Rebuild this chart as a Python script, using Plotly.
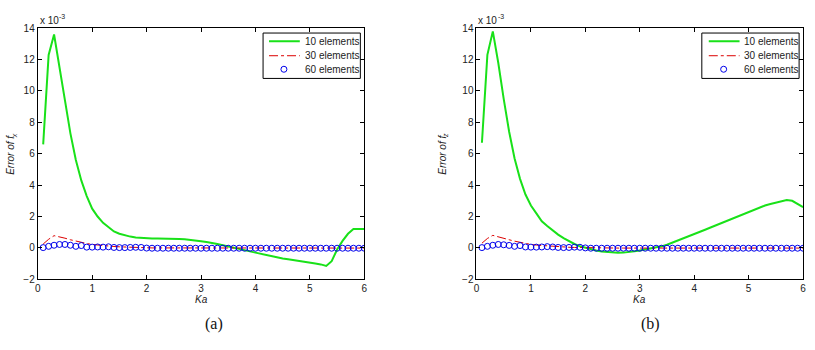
import plotly.graph_objects as go

W, H = 815, 350

ka = [0.1, 0.2, 0.3, 0.4, 0.5, 0.6, 0.7, 0.8, 0.9, 1.0,
      1.1, 1.2, 1.3, 1.4, 1.5, 1.6, 1.7, 1.8, 1.9, 2.0,
      2.1, 2.2, 2.3, 2.4, 2.5, 2.6, 2.7, 2.8, 2.9, 3.0,
      3.1, 3.2, 3.3, 3.4, 3.5, 3.6, 3.7, 3.8, 3.9, 4.0,
      4.1, 4.2, 4.3, 4.4, 4.5, 4.6, 4.7, 4.8, 4.9, 5.0,
      5.1, 5.2, 5.3, 5.4, 5.5, 5.6, 5.7, 5.8, 5.9, 6.0]

# (a) Error of f_x  (units of 1e-3)
a_10 = [6.6, 12.3, 13.6, 11.6, 9.4, 7.3, 5.6, 4.3, 3.3, 2.5,
        2.0, 1.6, 1.3, 1.05, 0.9, 0.8, 0.72, 0.67, 0.64, 0.62,
        0.6, 0.6, 0.6, 0.6, 0.58, 0.57, 0.55, 0.52, 0.48, 0.43,
        0.37, 0.32, 0.25, 0.17, 0.1, 0.02, -0.06, -0.14, -0.22, -0.3,
        -0.38, -0.45, -0.52, -0.6, -0.67, -0.72, -0.78, -0.85, -0.92, -0.97,
        -1.0, -1.05, -1.15, -0.85, -0.1, 0.45, 0.9, 1.2, 1.2, 1.2]
a_30 = [0.25, 0.55, 0.78, 0.72, 0.62, 0.52, 0.43, 0.35, 0.28, 0.22,
        0.18, 0.15, 0.12, 0.09, 0.07, 0.05, 0.04, 0.03, 0.02, 0.01,
        0.0, 0.0, -0.01, -0.01, -0.01, -0.01, -0.01, -0.01, -0.01, -0.01,
        -0.01, -0.01, -0.01, -0.01, -0.01, -0.01, -0.01, -0.01, -0.01, -0.01,
        -0.01, -0.01, -0.01, -0.01, -0.01, -0.01, -0.01, -0.01, -0.01, -0.01,
        -0.01, -0.01, -0.01, -0.01, -0.01, -0.01, -0.01, -0.01, -0.01, -0.01]
a_60 = [0.02, 0.1, 0.17, 0.22, 0.22, 0.17, 0.1, 0.15, 0.05, 0.05,
        0.06, 0.05, 0.07, 0.03, 0.02, 0.02, 0.03, 0.04, 0.03, -0.01,
        -0.02, -0.02, -0.02, -0.02, -0.02, -0.02, -0.02, -0.02, -0.02, -0.02,
        -0.02, -0.02, -0.02, -0.02, -0.02, -0.02, -0.02, -0.02, -0.02, -0.02,
        -0.02, -0.02, -0.02, -0.02, -0.02, -0.02, -0.02, -0.02, -0.02, -0.02,
        -0.02, -0.02, -0.02, -0.02, -0.02, -0.02, -0.02, -0.02, -0.02, -0.02]

# (b) Error of f_z  (units of 1e-3)
b_10 = [6.7, 12.3, 13.8, 11.8, 9.5, 7.4, 5.7, 4.4, 3.4, 2.7,
        2.2, 1.7, 1.4, 1.1, 0.85, 0.62, 0.42, 0.25, 0.1, 0.0,
        -0.1, -0.17, -0.23, -0.27, -0.3, -0.31, -0.3, -0.27, -0.22, -0.16,
        -0.1, -0.04, 0.02, 0.1, 0.2, 0.33, 0.47, 0.6, 0.74, 0.88,
        1.02, 1.16, 1.3, 1.44, 1.58, 1.72, 1.86, 2.0, 2.15, 2.3,
        2.45, 2.58, 2.7, 2.8, 2.88, 2.95, 3.05, 3.0, 2.8, 2.6]
b_30 = [0.3, 0.6, 0.8, 0.72, 0.62, 0.52, 0.43, 0.35, 0.28, 0.22,
        0.18, 0.15, 0.12, 0.09, 0.07, 0.05, 0.04, 0.03, 0.02, 0.01,
        0.0, 0.0, -0.01, -0.01, -0.01, -0.01, -0.01, -0.01, -0.01, -0.01,
        -0.01, -0.01, -0.01, -0.01, -0.01, -0.01, -0.01, -0.01, -0.01, -0.01,
        -0.01, -0.01, -0.01, -0.01, -0.01, -0.01, -0.01, -0.01, -0.01, -0.01,
        -0.01, -0.01, -0.01, -0.01, -0.01, -0.01, -0.01, -0.01, -0.01, -0.01]
b_60 = [0.02, 0.1, 0.17, 0.22, 0.2, 0.16, 0.1, 0.15, 0.06, 0.05,
        0.05, 0.06, 0.08, 0.06, 0.03, 0.02, 0.03, 0.05, 0.04, 0.0,
        -0.02, -0.02, -0.02, -0.02, -0.02, -0.02, -0.02, -0.02, -0.02, -0.02,
        -0.02, -0.02, -0.02, -0.02, -0.02, -0.02, -0.02, -0.02, -0.02, -0.02,
        -0.02, -0.02, -0.02, -0.02, -0.02, -0.02, -0.02, -0.02, -0.02, -0.02,
        -0.02, -0.02, -0.02, -0.02, -0.02, -0.02, -0.02, -0.02, -0.02, -0.02]

series_names = ["10 elements", "30 elements", "60 elements"]
x_ticks = [0, 1, 2, 3, 4, 5, 6]
y_ticks = [-2, 0, 2, 4, 6, 8, 10, 12, 14]
panel_labels = ["(a)", "(b)"]
y_subs = ["x", "z"]

GREEN = "rgb(25,225,25)"
RED = "rgb(220,0,0)"
BLUE = "rgb(0,0,235)"
FONT = "Liberation Sans, Arial, sans-serif"
TXT = "#222"


def px(x):
    return x / W


def py(y):
    return 1 - y / H


def note(x, y, text, size=10, xanchor="center", yanchor="middle", angle=0, family=FONT, color=TXT):
    fig.add_annotation(x=px(x), y=py(y), xref="paper", yref="paper", text=text,
                       showarrow=False, xanchor=xanchor, yanchor=yanchor, textangle=angle,
                       font=dict(family=family, size=size, color=color))


fig = go.Figure()

panels = [
    dict(xa="x", ya="y", d=(35, 364), data=(a_10, a_30, a_60), ylab_x=8,
         leg=(262, 360), line=(268, 299), circ=283, text=302, lab_x=213),
    dict(xa="x2", ya="y2", d=(477, 806), data=(b_10, b_30, b_60), ylab_x=443,
         leg=(704, 802), line=(711, 742), circ=726, text=744, lab_x=652),
]

ytop, ybot = 23, 283

for i, p in enumerate(panels):
    s10, s30, s60 = p["data"]
    fig.add_trace(go.Scatter(x=ka, y=s10, mode="lines", name=series_names[0],
                             line=dict(color=GREEN, width=2),
                             xaxis=p["xa"], yaxis=p["ya"], showlegend=False))
    fig.add_trace(go.Scatter(x=ka, y=s30, mode="lines", name=series_names[1],
                             line=dict(color=RED, width=1, dash="dashdot"),
                             xaxis=p["xa"], yaxis=p["ya"], showlegend=False))
    fig.add_trace(go.Scatter(x=ka, y=s60, mode="markers", name=series_names[2],
                             marker=dict(symbol="circle-open", size=6,
                                         color=BLUE, line=dict(width=1, color=BLUE)),
                             xaxis=p["xa"], yaxis=p["ya"], showlegend=False))

    # custom MATLAB-like legend box
    lx0, lx1 = p["leg"]
    ly0, ly1 = 28, 75
    fig.add_shape(type="rect", xref="paper", yref="paper",
                  x0=px(lx0), x1=px(lx1), y0=py(ly1), y1=py(ly0),
                  line=dict(color="black", width=1), fillcolor="white", layer="above")
    rows = [36.5, 51.5, 65.5]
    fig.add_shape(type="line", xref="paper", yref="paper",
                  x0=px(p["line"][0]), x1=px(p["line"][1]), y0=py(rows[0]), y1=py(rows[0]),
                  line=dict(color=GREEN, width=2), layer="above")
    fig.add_shape(type="line", xref="paper", yref="paper",
                  x0=px(p["line"][0]), x1=px(p["line"][1]), y0=py(rows[1]), y1=py(rows[1]),
                  line=dict(color=RED, width=1, dash="dashdot"), layer="above")
    fig.add_shape(type="circle", xref="paper", yref="paper",
                  xsizemode="pixel", ysizemode="pixel",
                  xanchor=px(p["circ"]), yanchor=py(rows[2]),
                  x0=-3, x1=3, y0=-3, y1=3,
                  line=dict(color=BLUE, width=1), layer="above")
    for r, name in zip(rows, series_names):
        note(p["text"], r, name, xanchor="left")

    # exponent label: "x 10" with raised "-3"
    x0 = p["d"][0]
    note(x0, 15, "x 10", xanchor="left")
    note(x0 + 19.5, 11, "-3", size=7, xanchor="left")

    # y title "Error of f" with subscript, rotated
    note(p["ylab_x"], 177, "<i>Error of f</i>", yanchor="bottom", angle=-90)
    note(p["ylab_x"] + 3, 138.5, "<i>" + y_subs[i] + "</i>", size=7, yanchor="bottom", angle=-90)

    # x title
    note((p["d"][0] + p["d"][1]) / 2, 304, "<i>Ka</i>")
    # panel label
    note(p["lab_x"], 329, panel_labels[i], size=16, family="Liberation Serif, serif", color="#111")

axis_common = dict(showline=True, linecolor="black", linewidth=1, mirror="allticks",
                   ticks="inside", ticklen=4, tickcolor="black", showgrid=False,
                   zeroline=False, tickfont=dict(family=FONT, size=10, color=TXT))

for i, p in enumerate(panels):
    sx = "" if i == 0 else "2"
    fig.update_layout(**{
        "xaxis" + sx: dict(domain=[px(p["d"][0]), px(p["d"][1])], range=[0, 6],
                           tickvals=x_ticks, anchor="y" + sx, **axis_common),
        "yaxis" + sx: dict(domain=[py(ybot), py(ytop)], range=[-2, 14],
                           tickvals=y_ticks, anchor="x" + sx, **axis_common),
    })

fig.update_layout(width=W, height=H, margin=dict(l=0, r=0, t=0, b=0),
                  paper_bgcolor="white", plot_bgcolor="white", showlegend=False)

fig.write_html("out.html")
